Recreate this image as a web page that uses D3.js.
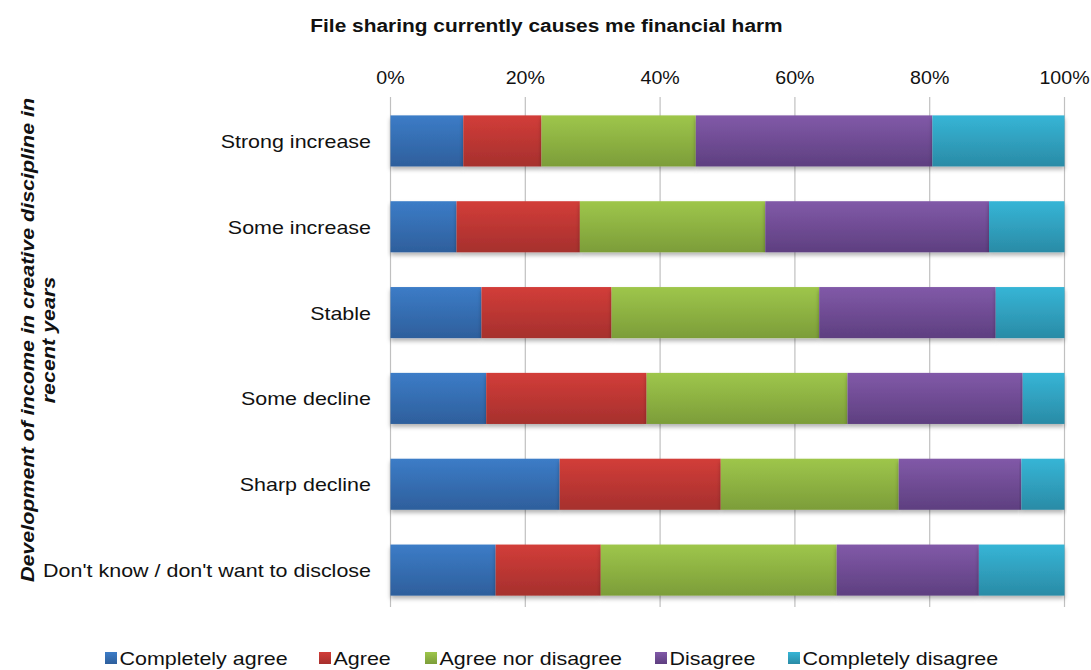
<!DOCTYPE html>
<html>
<head>
<meta charset="utf-8">
<script src="https://cdn.jsdelivr.net/npm/d3@7"></script>
<style>
  html, body { margin: 0; padding: 0; background: #fff; }
  svg { display: block; font-family: "Liberation Sans", Arial, sans-serif; }
</style>
</head>
<body>
<svg id="chart" width="1091" height="670"></svg>
<script>
// Income development groups (rows, top to bottom)
const categories = [
  "Strong increase",
  "Some increase",
  "Stable",
  "Some decline",
  "Sharp decline",
  "Don't know / don't want to disclose"
];

// Answer series, share of respondents in percent
const seriesNames = ["Completely agree", "Agree", "Agree nor disagree", "Disagree", "Completely disagree"];
const completelyAgree    = [10.8,  9.8, 13.5, 14.2, 25.1, 15.6];
const agree              = [11.6, 18.3, 19.3, 23.8, 23.9, 15.6];
const agreeNorDisagree   = [22.9, 27.5, 30.8, 29.8, 26.4, 35.0];
const disagree           = [35.1, 33.2, 26.2, 26.0, 18.2, 21.1];
const completelyDisagree = [19.6, 11.2, 10.2,  6.2,  6.4, 12.7];

const tickValues = [0, 20, 40, 60, 80, 100];
const tickLabels = ["0%", "20%", "40%", "60%", "80%", "100%"];

const seriesValues = [completelyAgree, agree, agreeNorDisagree, disagree, completelyDisagree];
const colors = [
  ["#3c7cc7", "#2e5f9c"],
  ["#d23d39", "#a6302d"],
  ["#9ec64b", "#7c9d39"],
  ["#8159a8", "#5e3f80"],
  ["#36b5d6", "#2a8ba6"]
];

const rows = categories.map((c, i) => {
  const r = { category: c };
  seriesNames.forEach((s, j) => { r[s] = seriesValues[j][i]; });
  return r;
});

const svg = d3.select("#chart");
const defs = svg.append("defs");

colors.forEach((c, j) => {
  const g = defs.append("linearGradient")
    .attr("id", "grad" + j).attr("x1", 0).attr("y1", 0).attr("x2", 0).attr("y2", 1);
  g.append("stop").attr("offset", "0%").attr("stop-color", c[0]);
  g.append("stop").attr("offset", "100%").attr("stop-color", c[1]);
});

const shadow = defs.append("filter").attr("id", "shadow")
  .attr("x", "-5%").attr("y", "-20%").attr("width", "110%").attr("height", "150%");
shadow.append("feDropShadow")
  .attr("dx", 0).attr("dy", 3).attr("stdDeviation", 2.2)
  .attr("flood-color", "#000").attr("flood-opacity", 0.3);

const x = d3.scaleLinear().domain([0, 100]).range([390.5, 1064.5]);
const y = d3.scaleBand().domain(categories).range([98, 613])
  .paddingInner(0.405).paddingOuter(0.2025);

// Text helper: the chart font is set slightly wide along its baseline
const WIDE = 1.13;
function label(parent, tx, ty, str, opts = {}) {
  const rot = opts.rotate ? ` rotate(${opts.rotate})` : "";
  return parent.append("text")
    .attr("transform", `translate(${tx},${ty})${rot} scale(${opts.sx || WIDE},1)`)
    .attr("text-anchor", opts.anchor || "start")
    .attr("dominant-baseline", opts.baseline || "auto")
    .attr("font-size", opts.size || 19)
    .attr("font-weight", opts.weight || "normal")
    .attr("font-style", opts.style || "normal")
    .attr("fill", "#111")
    .text(str);
}

// Vertical gridlines
svg.append("g")
  .selectAll("line")
  .data(tickValues)
  .join("line")
  .attr("x1", d => x(d)).attr("x2", d => x(d))
  .attr("y1", 97).attr("y2", 607)
  .attr("stroke", "#c0c0c0").attr("stroke-width", 1.2);

// Top percentage labels
const gx = svg.append("g");
tickValues.forEach((v, i) => {
  label(gx, x(v), 84, tickLabels[i], { anchor: "middle", size: 18.5, sx: 1.06 });
});

// Stacked bars
const stacked = d3.stack().keys(seriesNames)(rows);

svg.append("g")
  .selectAll("g")
  .data(stacked)
  .join("g")
  .attr("fill", (d, j) => `url(#grad${j})`)
  .selectAll("rect")
  .data(d => d)
  .join("rect")
  .attr("x", d => x(d[0]))
  .attr("width", d => x(d[1]) - x(d[0]))
  .attr("y", d => y(d.data.category))
  .attr("height", y.bandwidth())
  .attr("filter", "url(#shadow)");

// Category labels
const gy = svg.append("g");
categories.forEach(c => {
  label(gy, x(0) - 19.5, y(c) + y.bandwidth() / 2 + 7, c, { anchor: "end", size: 19 });
});

// Title
label(svg, 546.5, 32, "File sharing currently causes me financial harm",
  { anchor: "middle", size: 18.5, weight: "bold" });

// Vertical axis title (two lines)
label(svg, 34, 340, "Development of income in creative discipline in",
  { anchor: "middle", size: 19, weight: "bold", style: "italic", rotate: -90 });
label(svg, 55, 340, "recent years",
  { anchor: "middle", size: 19, weight: "bold", style: "italic", rotate: -90 });

// Legend
const legendX = [105, 319, 425, 655, 788];
const legend = svg.append("g");
seriesNames.forEach((s, j) => {
  legend.append("rect")
    .attr("x", legendX[j]).attr("y", 652)
    .attr("width", 12).attr("height", 12)
    .attr("fill", `url(#grad${j})`);
  label(legend, legendX[j] + 14.5, 665, s, { size: 19 });
});
</script>
</body>
</html>
